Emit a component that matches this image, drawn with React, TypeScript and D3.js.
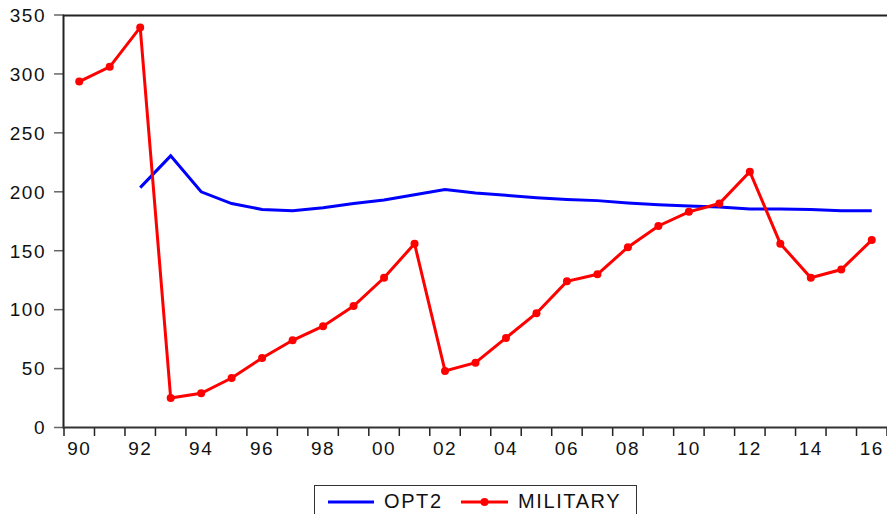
import React from 'react'
import * as d3 from 'd3'

const years = d3.range(1990, 2017)
const military = [293.5, 306, 339.5, 25, 29, 42, 59, 74, 86, 103, 127, 156, 48, 55, 76, 97, 124, 130, 153, 171, 183, 190, 217, 156, 127, 134, 159]
// OPT2 starts in 1992
const opt2 = [null, null, 203.5, 230.5, 200, 190, 185, 184, 186.5, 190, 193, 197.5, 202, 199, 197, 195, 193.5, 192.5, 190.5, 189, 188, 187, 185.5, 185.5, 185, 184, 184]
const yTicks = [0, 50, 100, 150, 200, 250, 300, 350]
const xLabelYears = [1990, 1992, 1994, 1996, 1998, 2000, 2002, 2004, 2006, 2008, 2010, 2012, 2014, 2016]

const W = 887
const H = 514
const font = '"Liberation Sans", Arial, sans-serif'

export default function App() {
  const x = d3.scaleLinear().domain([1989.5, 2016.5]).range([64, 887])
  const y = d3.scaleLinear().domain([0, 350]).range([427.5, 15])

  const redLine = d3.line<number>()
    .x((d, i) => x(years[i]))
    .y(d => y(d))(military)

  const blueLine = d3.line<number | null>()
    .defined(d => d !== null)
    .x((d, i) => x(years[i]))
    .y(d => y(d as number))(opt2)

  // ticks sit on year boundaries
  const xTickPos = d3.range(1989.5, 2016.6, 1)

  return (
    <svg width={W} height={H} style={{position: 'absolute', left: 0, top: 0, background: '#fff'}}>
      {/* y ticks and labels */}
      {yTicks.map(t => (
        <g key={t}>
          <line x1={54} x2={64} y1={y(t)} y2={y(t)} stroke="#666" strokeWidth={1.5} />
          <text x={46} y={y(t)} dy="0.36em" textAnchor="end" fontFamily={font} fontSize={19} letterSpacing={1.5} fill="#111">{t}</text>
        </g>
      ))}
      {/* x ticks */}
      {xTickPos.map(t => (
        <line key={t} x1={x(t)} x2={x(t)} y1={427.5} y2={436} stroke="#222" strokeWidth={1.5} />
      ))}
      {xLabelYears.map(yr => (
        <text key={yr} x={x(yr)} y={455} textAnchor="middle" fontFamily={font} fontSize={19} letterSpacing={1.5} fill="#111">
          {String(yr % 100).padStart(2, '0')}
        </text>
      ))}
      {/* frame */}
      <line x1={63.5} x2={63.5} y1={15} y2={428.5} stroke="#222" strokeWidth={2} />
      <line x1={63} x2={887} y1={427.5} y2={427.5} stroke="#333" strokeWidth={2} />
      <line x1={63} x2={887} y1={15.5} y2={15.5} stroke="#222" strokeWidth={2} />

      {/* series */}
      <path d={blueLine ?? ''} fill="none" stroke="#0000ff" strokeWidth={3} />
      <path d={redLine ?? ''} fill="none" stroke="#ff0000" strokeWidth={3} />
      {military.map((d, i) => (
        <circle key={i} cx={x(years[i])} cy={y(d)} r={4} fill="#ff0000" />
      ))}

      {/* legend */}
      <rect x={314.5} y={485.5} width={322} height={40} fill="#fff" stroke="#333" strokeWidth={1} />
      <line x1={328} x2={374} y1={502} y2={502} stroke="#0000ff" strokeWidth={3} />
      <text x={384} y={507.5} fontFamily={font} fontSize={20} letterSpacing={1.6} fill="#111">OPT2</text>
      <line x1={461} x2={508} y1={502} y2={502} stroke="#ff0000" strokeWidth={3} />
      <circle cx={484.5} cy={502} r={4} fill="#ff0000" />
      <text x={518} y={507.5} fontFamily={font} fontSize={20} letterSpacing={1.6} fill="#111">MILITARY</text>
    </svg>
  )
}
